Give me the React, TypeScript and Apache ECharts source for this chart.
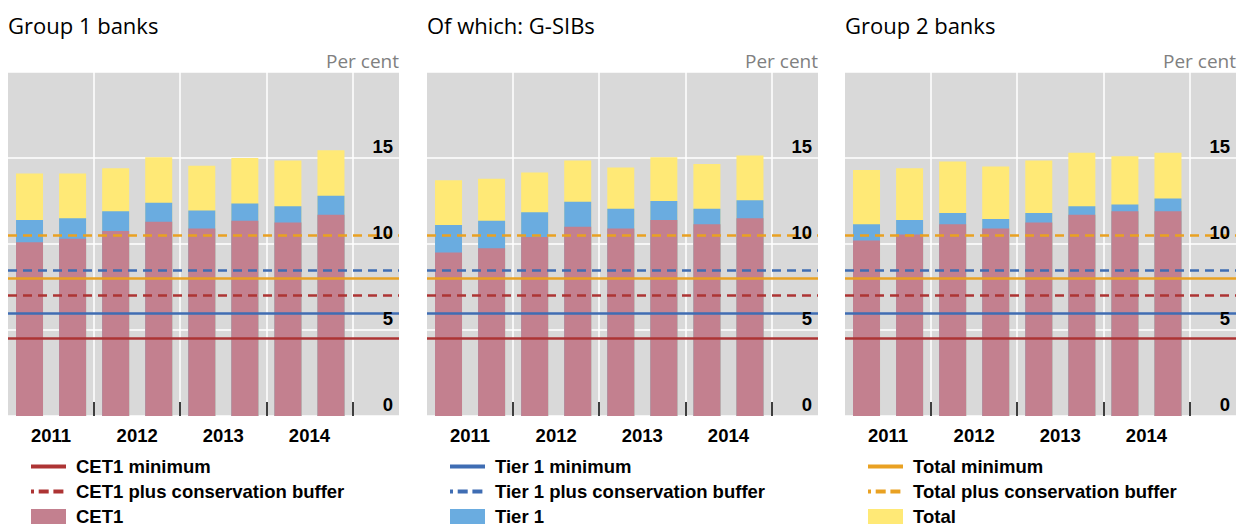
import React, { useEffect, useRef } from "react";
import * as echarts from "echarts";

// ---- Data ----
const YEARS = ["2011", "2012", "2013", "2014"];
const HALF_YEARS = ["2011 H1", "2011 H2", "2012 H1", "2012 H2", "2013 H1", "2013 H2", "2014 H1", "2014 H2"];
const PANEL_TITLES = ["Group 1 banks", "Of which: G-SIBs", "Group 2 banks"];
const Y_TICKS = [0, 5, 10, 15, 20];

const group1CET1 = [10.1, 10.3, 10.75, 11.3, 10.9, 11.35, 11.25, 11.7];
const group1Tier1 = [11.4, 11.5, 11.9, 12.4, 11.95, 12.35, 12.2, 12.8];
const group1Total = [14.1, 14.1, 14.4, 15.05, 14.55, 15.0, 14.85, 15.45];

const gsibCET1 = [9.5, 9.75, 10.4, 11.0, 10.9, 11.4, 11.15, 11.5];
const gsibTier1 = [11.1, 11.35, 11.85, 12.45, 12.05, 12.5, 12.05, 12.55];
const gsibTotal = [13.7, 13.8, 14.15, 14.85, 14.45, 15.05, 14.65, 15.15];

const group2CET1 = [10.2, 10.55, 11.15, 10.9, 11.25, 11.7, 11.9, 11.9];
const group2Tier1 = [11.15, 11.4, 11.8, 11.45, 11.8, 12.2, 12.3, 12.65];
const group2Total = [14.3, 14.4, 14.8, 14.5, 14.85, 15.3, 15.1, 15.3];

const THRESHOLD_NAMES = [
  "CET1 minimum",
  "CET1 plus conservation buffer",
  "Tier 1 minimum",
  "Tier 1 plus conservation buffer",
  "Total minimum",
  "Total plus conservation buffer",
];
const THRESHOLD_VALUES = [4.5, 7, 6, 8.5, 8, 10.5];

const BAR_NAMES = ["CET1", "Tier 1", "Total"];

// ---- Styles ----
const PANEL_DATA = [
  [group1CET1, group1Tier1, group1Total],
  [gsibCET1, gsibTier1, gsibTotal],
  [group2CET1, group2Tier1, group2Total],
];
const BAR_COLORS = ["#c3808f", "#6aace0", "#ffe976"];
const LINE_COLORS = ["#ad3434", "#ad3434", "#3f6db3", "#3f6db3", "#e9a122", "#e9a122"];
const LINE_DASHED = [false, true, false, true, false, true];
const GRID_LEFTS = [8, 427, 845];
const GRID_WIDTH = 391;
const GRID_TOP = 72;
const GRID_HEIGHT = 344;
const X_MAX = 9.08;

const BOLD_FONT = "'Liberation Sans', Arial, sans-serif";
const TITLE_FONT = "'Open Sans', 'Noto Sans', sans-serif";

function buildOption() {
  const yearBoundaries = YEARS.map((_, i) => (i + 1) * 2);
  const yearCenters = YEARS.map((_, i) => i * 2 + 1);

  const grid: any[] = [];
  const xAxis: any[] = [];
  const yAxis: any[] = [];
  const series: any[] = [];
  const title: any[] = [];
  const legend: any[] = [];

  const hiddenSymbol = { color: "rgba(0,0,0,0)", borderColor: "rgba(0,0,0,0)", borderWidth: 0, opacity: 0 };

  PANEL_TITLES.forEach((t, p) => {
    grid.push({
      left: GRID_LEFTS[p],
      top: GRID_TOP,
      width: GRID_WIDTH,
      height: GRID_HEIGHT,
      show: true,
      backgroundColor: "#d9d9d9",
      borderWidth: 0,
    });
    title.push({
      text: t,
      left: GRID_LEFTS[p],
      top: 14,
      padding: 0,
      textStyle: { fontFamily: TITLE_FONT, fontSize: 22, fontWeight: "normal", color: "#000" },
    });
    xAxis.push({
      gridIndex: p,
      type: "value",
      min: 0,
      max: X_MAX,
      interval: 2,
      axisLine: { show: false },
      axisTick: {
        show: true,
        inside: true,
        length: 14,
        customValues: yearBoundaries,
        lineStyle: { color: "#000", width: 1.5 },
      },
      splitLine: { show: true, lineStyle: { color: "#ffffff", width: 1.5 } },
      axisLabel: {
        show: true,
        customValues: yearCenters,
        formatter: (v: number) => YEARS[Math.round((v - 1) / 2)] ?? "",
        fontFamily: BOLD_FONT,
        fontWeight: "bold",
        fontSize: 18.5,
        color: "#000",
        margin: 10,
      },
    });
    // y axis for gridlines (below bars)
    yAxis.push({
      gridIndex: p,
      type: "value",
      position: "right",
      min: Y_TICKS[0],
      max: Y_TICKS[Y_TICKS.length - 1],
      interval: Y_TICKS[1] - Y_TICKS[0],
      axisLine: { show: false },
      axisTick: { show: false },
      axisLabel: { show: false },
      splitLine: { show: true, lineStyle: { color: "#ffffff", width: 1.5 } },
    });
    // y axis for labels (above lines)
    yAxis.push({
      gridIndex: p,
      type: "value",
      position: "right",
      z: 20,
      min: Y_TICKS[0],
      max: Y_TICKS[Y_TICKS.length - 1],
      interval: Y_TICKS[1] - Y_TICKS[0],
      name: "Per cent",
      nameLocation: "end",
      nameGap: 2,
      nameTextStyle: {
        fontFamily: TITLE_FONT,
        fontSize: 19,
        color: "#808080",
        align: "right",
        verticalAlign: "bottom",
      },
      axisLine: { show: false },
      axisTick: { show: false },
      splitLine: { show: false },
      axisLabel: {
        show: true,
        inside: true,
        showMaxLabel: false,
        margin: 6,
        verticalAlign: "bottom",
        padding: [0, 0, 2, 0],
        fontFamily: BOLD_FONT,
        fontWeight: "bold",
        fontSize: 18.5,
        color: "#000",
      },
    });

    // Bars: Total (back), Tier 1, CET1 (front)
    [2, 1, 0].forEach((b) => {
      series.push({
        type: "bar",
        name: BAR_NAMES[b],
        xAxisIndex: p,
        yAxisIndex: p * 2,
        barWidth: 27,
        barGap: "-100%",
        z: 2,
        itemStyle: { color: BAR_COLORS[b] },
        data: PANEL_DATA[p][b].map((v, i) => [i + 0.5, v]),
      });
    });

    // Threshold lines
    THRESHOLD_NAMES.forEach((n, k) => {
      const dash = LINE_DASHED[k];
      series.push({
        type: "line",
        name: n,
        xAxisIndex: p,
        yAxisIndex: p * 2,
        data: [],
        symbol: "none",
        z: 5,
        itemStyle: { color: LINE_COLORS[k] },
        lineStyle: { color: LINE_COLORS[k], width: 4, type: dash ? [10, 4.7] : "solid", dashOffset: dash ? 7 : 0 },
        markLine: {
          silent: true,
          symbol: "none",
          z: 5,
          label: { show: false },
          lineStyle: { color: LINE_COLORS[k], width: 2.5, type: dash ? [9, 6] : "solid" },
          data: [{ yAxis: THRESHOLD_VALUES[k] }],
        },
      });
    });

    legend.push({
      orient: "vertical",
      left: GRID_LEFTS[p] + 21,
      top: 454,
      height: 100,
      padding: 0,
      itemWidth: 35,
      itemHeight: 15,
      itemGap: 0,
      selectedMode: false,
      lineStyle: { width: 4 },
      textStyle: {
        fontFamily: BOLD_FONT,
        fontWeight: "bold",
        fontSize: 18.5,
        color: "#000",
        lineHeight: 25,
        padding: [0, 0, 0, 5],
      },
      data: [
        { name: THRESHOLD_NAMES[p * 2], itemStyle: hiddenSymbol, lineStyle: { width: 4, type: "solid" } },
        {
          name: THRESHOLD_NAMES[p * 2 + 1],
          itemStyle: hiddenSymbol,
          lineStyle: { width: 4, type: [10, 4.7], dashOffset: 7 },
        },
        { name: BAR_NAMES[p], icon: "rect" },
      ],
    });
  });

  return {
    animation: false,
    backgroundColor: "#ffffff",
    title,
    grid,
    xAxis,
    yAxis,
    legend,
    series,
  };
}

export default function App() {
  const ref = useRef<HTMLDivElement>(null);
  useEffect(() => {
    if (!ref.current) return;
    const chart = echarts.init(ref.current, undefined, { renderer: "svg" });
    chart.setOption(buildOption() as any);
    return () => chart.dispose();
  }, []);
  return (
    <div
      ref={ref}
      style={{ position: "absolute", left: 0, top: 0, width: 1239, height: 526 }}
    />
  );
}
